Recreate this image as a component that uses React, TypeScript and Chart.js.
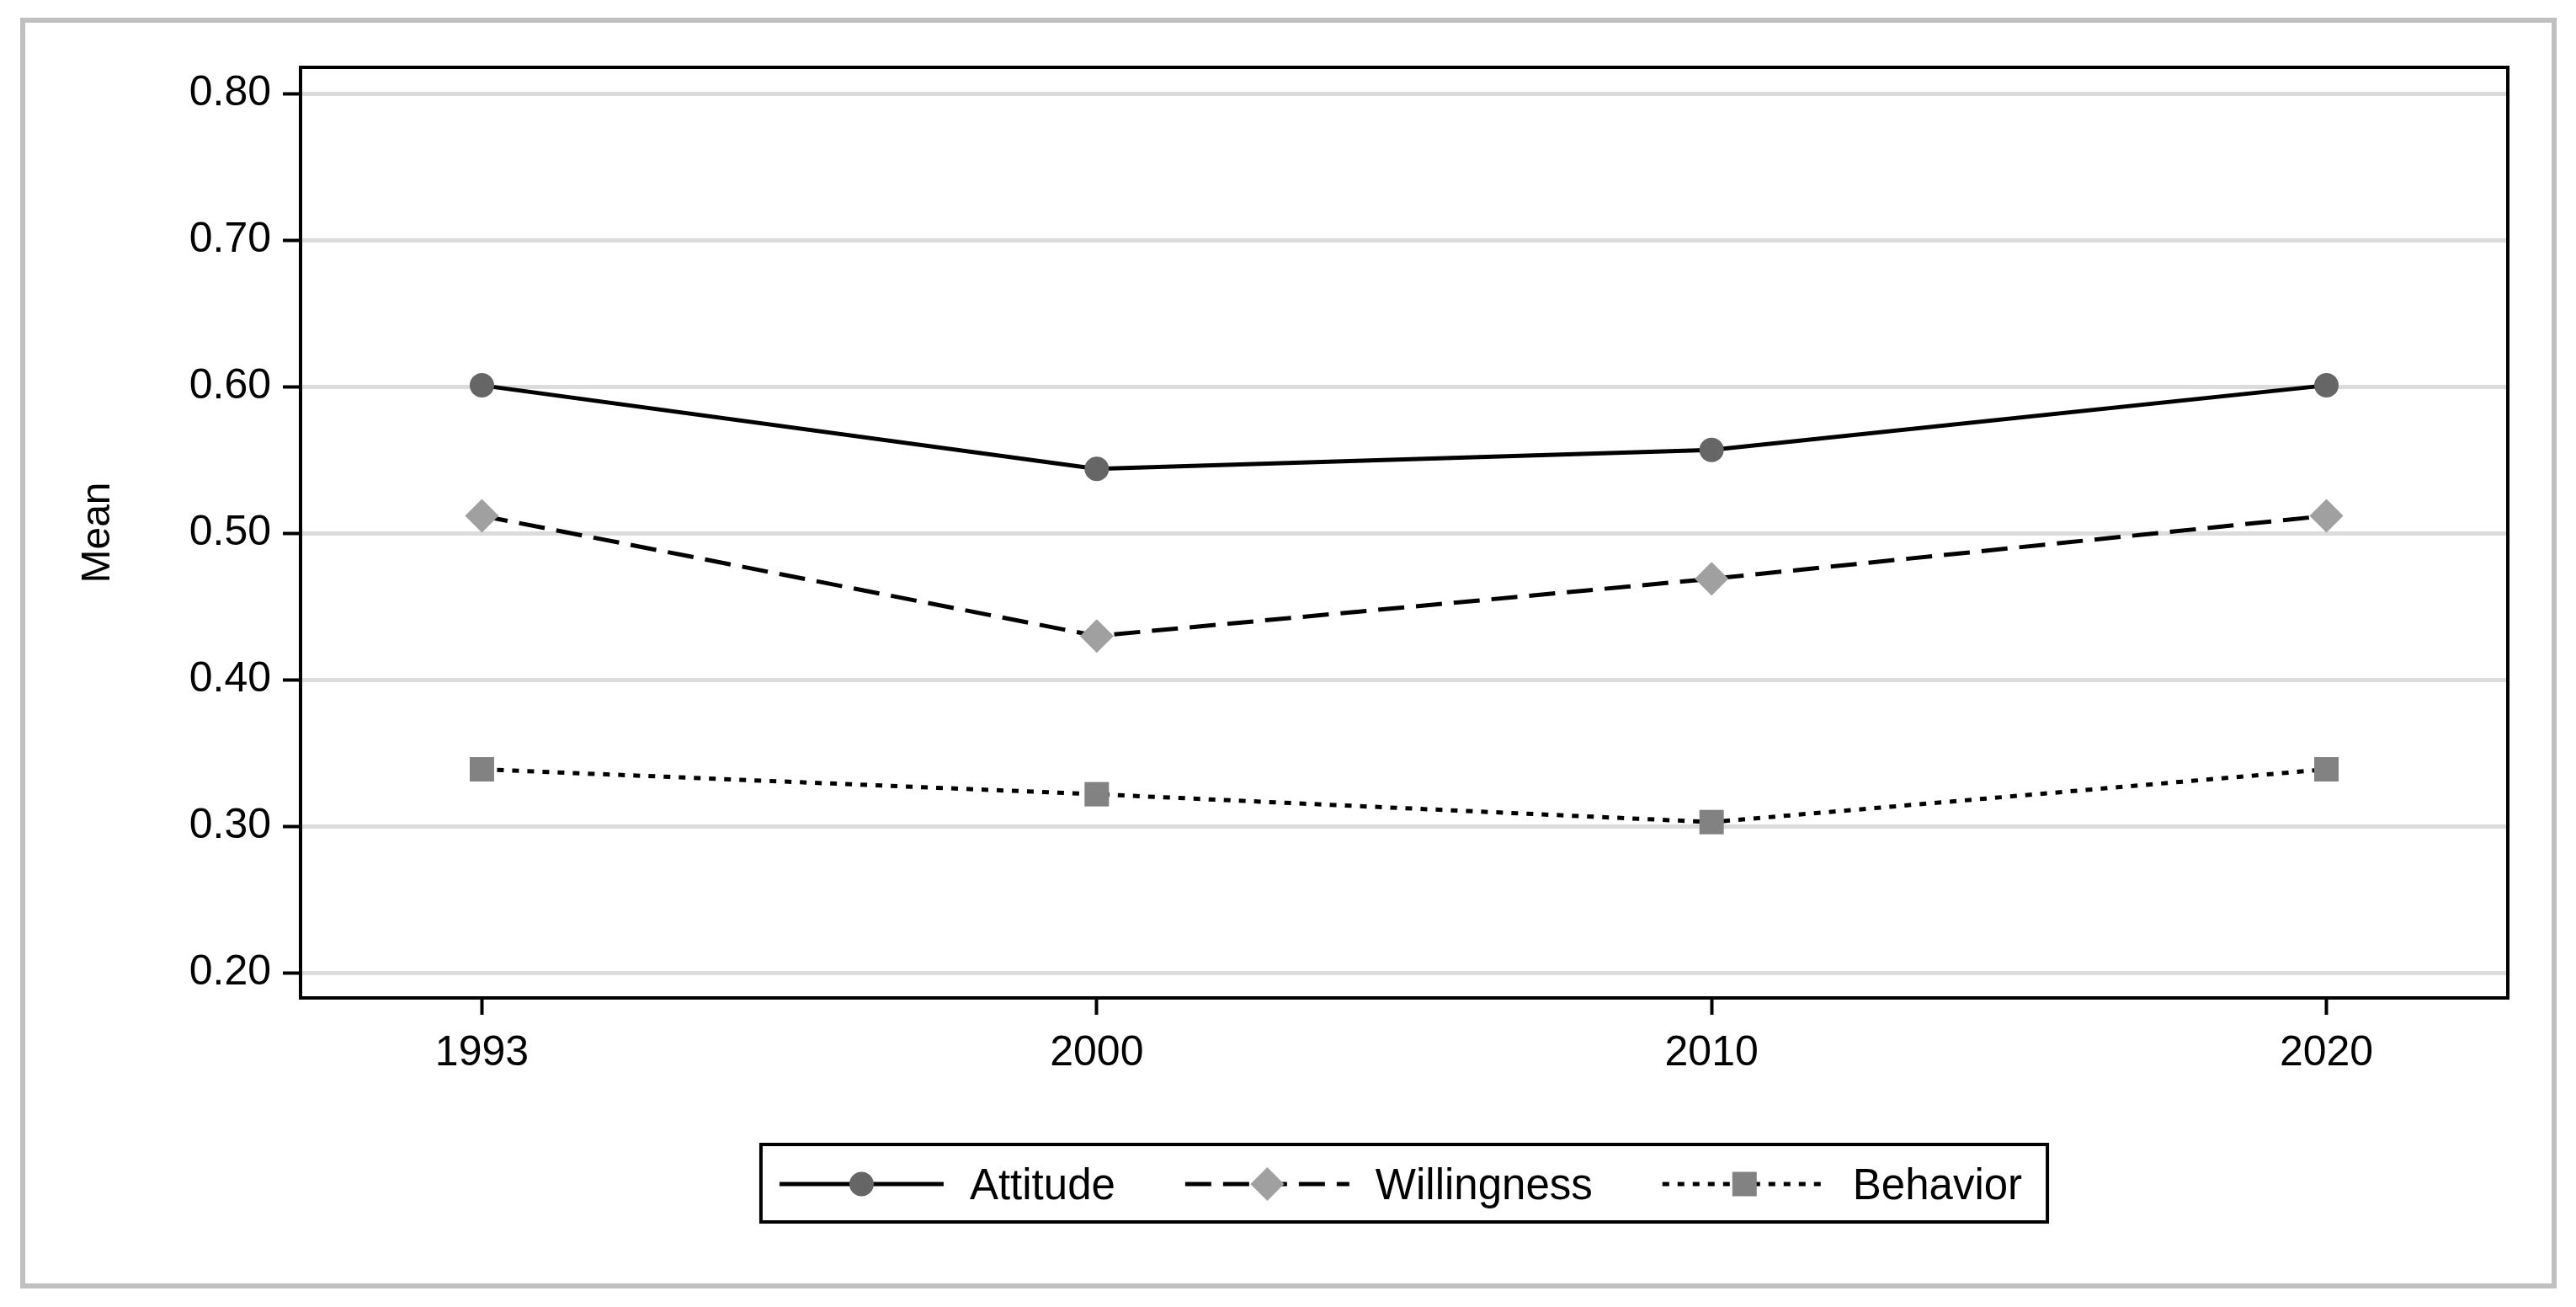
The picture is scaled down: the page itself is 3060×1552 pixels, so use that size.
import React, { useEffect, useRef } from 'react';
import { Chart, registerables } from 'chart.js';

Chart.register(...registerables);

const years = ['1993', '2000', '2010', '2020'];
const attitude = [0.601, 0.544, 0.557, 0.601];
const willingness = [0.512, 0.43, 0.469, 0.512];
const behavior = [0.339, 0.322, 0.303, 0.339];
const yTickValues = [0.2, 0.3, 0.4, 0.5, 0.6, 0.7, 0.8];
const seriesNames = ['Attitude', 'Willingness', 'Behavior'];

const FONT = '"Liberation Sans", Arial, Helvetica, sans-serif';

function drawMarker(ctx: CanvasRenderingContext2D, style: string, x: number, y: number, r: number, color: string) {
  ctx.save();
  ctx.fillStyle = color;
  ctx.beginPath();
  if (style === 'circle') {
    ctx.arc(x, y, r, 0, Math.PI * 2);
  } else if (style === 'rectRot') {
    ctx.moveTo(x - r, y);
    ctx.lineTo(x, y - r);
    ctx.lineTo(x + r, y);
    ctx.lineTo(x, y + r);
    ctx.closePath();
  } else {
    const s = Math.SQRT1_2 * r;
    ctx.rect(x - s, y - s, 2 * s, 2 * s);
  }
  ctx.fill();
  ctx.restore();
}

const framePlugin = {
  id: 'frame',
  beforeDraw(chart: any) {
    const ctx = chart.ctx as CanvasRenderingContext2D;
    ctx.save();
    ctx.fillStyle = '#ffffff';
    ctx.fillRect(0, 0, chart.width, chart.height);
    ctx.strokeStyle = '#c0c0c0';
    ctx.lineWidth = 6;
    ctx.strokeRect(27, 24, 3007, 1503);
    ctx.restore();
  },
  afterDatasetsDraw(chart: any) {
    const ctx = chart.ctx as CanvasRenderingContext2D;
    const a = chart.chartArea;
    ctx.save();
    ctx.strokeStyle = '#000000';
    ctx.lineWidth = 4;
    ctx.strokeRect(a.left, a.top, a.right - a.left, a.bottom - a.top);
    ctx.restore();
  },
};

const legendPlugin = {
  id: 'customLegend',
  afterDraw(chart: any) {
    const ctx = chart.ctx as CanvasRenderingContext2D;
    const a = chart.chartArea;
    const datasets = chart.data.datasets;
    ctx.save();
    ctx.font = `51px ${FONT}`;
    const sample = 195;
    const gapText = 31;
    const itemGap = 83;
    const padL = 22;
    const padR = 30;
    const widths = datasets.map((ds: any) => ctx.measureText(ds.label).width);
    let total = padL + padR + itemGap * (datasets.length - 1);
    widths.forEach((w: number) => {
      total += sample + gapText + w;
    });
    const cx = (a.left + a.right) / 2;
    const x0 = cx - total / 2;
    const top = 1359;
    const h = 92;
    const cy = 1406;
    ctx.strokeStyle = '#000';
    ctx.lineWidth = 4;
    ctx.strokeRect(x0, top, total, h);
    let x = x0 + padL;
    datasets.forEach((ds: any, i: number) => {
      ctx.save();
      ctx.strokeStyle = ds.borderColor;
      ctx.lineWidth = ds.borderWidth;
      ctx.setLineDash(ds.borderDash || []);
      ctx.beginPath();
      ctx.moveTo(x, cy);
      ctx.lineTo(x + sample, cy);
      ctx.stroke();
      ctx.restore();
      drawMarker(ctx, ds.pointStyle, x + sample / 2, cy, ds.pointRadius, ds.pointBackgroundColor);
      ctx.fillStyle = '#000';
      ctx.textAlign = 'left';
      ctx.textBaseline = 'alphabetic';
      ctx.fillText(ds.label, x + sample + gapText, 1424);
      x += sample + gapText + widths[i] + itemGap;
    });
    ctx.restore();
  },
};

export default function App() {
  const canvasRef = useRef<HTMLCanvasElement | null>(null);

  useEffect(() => {
    const canvas = canvasRef.current;
    if (!canvas) return;
    const toPoints = (arr: number[]) => arr.map((v, i) => ({ x: i, y: v }));
    const chart = new Chart(canvas, {
      type: 'line',
      data: {
        datasets: [
          {
            label: seriesNames[0],
            data: toPoints(attitude),
            borderColor: '#000000',
            borderWidth: 5,
            borderDash: [],
            pointStyle: 'circle',
            pointRadius: 14.5,
            pointBackgroundColor: '#666666',
            pointBorderWidth: 0,
            pointHoverRadius: 14.5,
            tension: 0,
          } as any,
          {
            label: seriesNames[1],
            data: toPoints(willingness),
            borderColor: '#000000',
            borderWidth: 5,
            borderDash: [31, 14],
            pointStyle: 'rectRot',
            pointRadius: 20,
            pointBackgroundColor: '#a0a0a0',
            pointBorderWidth: 0,
            pointHoverRadius: 20,
            tension: 0,
          } as any,
          {
            label: seriesNames[2],
            data: toPoints(behavior),
            borderColor: '#000000',
            borderWidth: 5,
            borderDash: [8, 10],
            pointStyle: 'rect',
            pointRadius: 20.5,
            pointBackgroundColor: '#828282',
            pointBorderWidth: 0,
            pointHoverRadius: 20.5,
            tension: 0,
          } as any,
        ],
      },
      options: {
        animation: false,
        responsive: false,
        devicePixelRatio: 1,
        layout: { padding: { left: 0, top: 80, right: 81, bottom: 0 } },
        plugins: {
          legend: { display: false },
          tooltip: { enabled: false },
          title: { display: false },
        },
        scales: {
          x: {
            type: 'linear',
            min: -0.295,
            max: 3.295,
            afterFit: (scale: any) => {
              scale.height = 367;
            },
            afterBuildTicks: (scale: any) => {
              scale.ticks = years.map((_, i) => ({ value: i }));
            },
            grid: {
              drawOnChartArea: false,
              drawTicks: true,
              tickLength: 20,
              tickColor: '#000000',
              tickWidth: 4,
            },
            border: { display: false },
            ticks: {
              color: '#000000',
              font: { family: FONT, size: 50 },
              padding: 16,
              maxRotation: 0,
              autoSkip: false,
              callback: (v: any) => years[Math.round(Number(v))] ?? '',
            },
          },
          y: {
            type: 'linear',
            min: 0.183,
            max: 0.818,
            afterFit: (scale: any) => {
              scale.width = 357;
            },
            afterBuildTicks: (scale: any) => {
              scale.ticks = yTickValues.map((v) => ({ value: v }));
            },
            grid: {
              color: '#dcdcdc',
              lineWidth: 5,
              drawTicks: true,
              tickLength: 21,
              tickColor: '#000000',
              tickWidth: 4,
            },
            border: { display: false },
            ticks: {
              color: '#000000',
              font: { family: FONT, size: 50 },
              padding: 14,
              autoSkip: false,
              callback: (v: any) => Number(v).toFixed(2),
            },
            title: {
              display: true,
              text: 'Mean',
              color: '#000000',
              font: { family: FONT, size: 48 },
              padding: { top: 88, bottom: 0 },
            },
          },
        },
      },
      plugins: [framePlugin, legendPlugin],
    });
    return () => {
      chart.destroy();
    };
  }, []);

  return (
    <div style={{ position: 'absolute', left: 0, top: 0, width: 3060, height: 1552, background: '#fff' }}>
      <canvas ref={canvasRef} width={3060} height={1552} style={{ width: 3060, height: 1552, display: 'block' }} />
    </div>
  );
}
